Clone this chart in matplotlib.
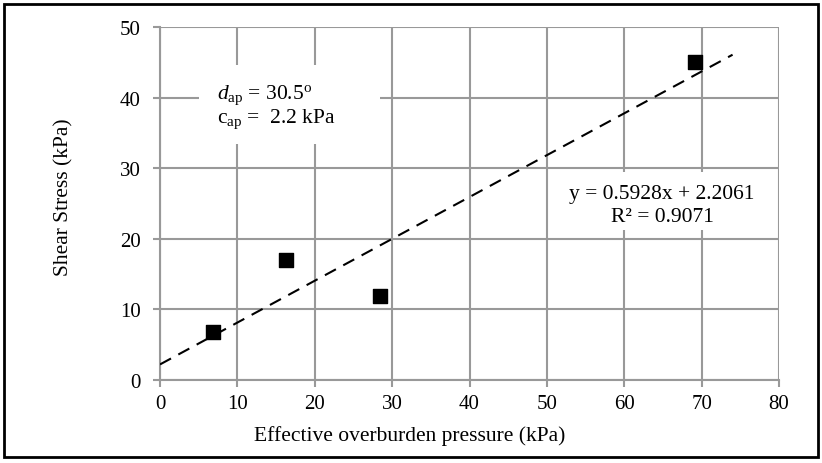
import matplotlib
matplotlib.use("Agg")
import matplotlib.pyplot as plt
import numpy as np
from matplotlib.patches import Rectangle

plt.rcParams['font.family'] = ['Liberation Serif', 'DejaVu Serif']
plt.rcParams['mathtext.fontset'] = 'custom'
plt.rcParams['mathtext.rm'] = 'Liberation Serif'
plt.rcParams['mathtext.it'] = 'Liberation Serif:italic'

pressure = [6.8, 16.3, 28.4, 69.1]
shear = [6.8, 17.0, 11.9, 45.0]
slope = 0.5928
intercept = 2.2061
trend_x = [0, 74]
x_ticks = [0, 10, 20, 30, 40, 50, 60, 70, 80]
y_ticks = [0, 10, 20, 30, 40, 50]

W, H = 822, 464
fig = plt.figure(figsize=(W/100, H/100), dpi=100)
ax = fig.add_axes([160/W, 1-381/H, (779-160)/W, (381-28)/H])

grid_c = '#999999'
ax.set_xlim(0, 80)
ax.set_ylim(0, 50)
ax.set_xticks(x_ticks)
ax.set_yticks(y_ticks)
ax.grid(True, color=grid_c, linewidth=1.5)
ax.set_axisbelow(True)
for s in ax.spines.values():
    s.set_visible(False)
for side in ('left', 'bottom'):
    ax.spines[side].set_visible(True)
    ax.spines[side].set_color(grid_c)
    ax.spines[side].set_linewidth(1.5)
ax.tick_params(axis='both', direction='out', length=5, width=1.5, color=grid_c,
               labelsize=15)
ax.tick_params(axis='y', pad=9)
ax.tick_params(axis='x', pad=5)

tx = np.array(trend_x, dtype=float)
ax.plot(tx, slope * tx + intercept, color='black', linestyle=(0, (6, 4)), linewidth=1.5, zorder=3)
ax.scatter(pressure, shear, marker='s', s=110, color='black', zorder=4)

fig.text(410/W, 1-436/H, 'Effective overburden pressure (kPa)', fontsize=15.5,
         ha='center', va='center')
fig.text(64/W, 1-197/H, 'Shear Stress (kPa)', fontsize=15.5, rotation=90,
         ha='center', va='center')

# white label boxes covering the grid
ax.add_patch(Rectangle((199/W, 1-145/H), (380-199)/W, (145-66)/H, transform=fig.transFigure,
                       facecolor='white', edgecolor='none', zorder=2, clip_on=False))
ax.add_patch(Rectangle((551/W, 1-231/H), (775-551)/W, (231-173)/H, transform=fig.transFigure,
                       facecolor='white', edgecolor='none', zorder=2, clip_on=False))

fig.text(217/W, 1-95/H, '$d_{\\rm ap}$ = 30.5$^{\\rm o}$', fontsize=15.5,
         va='center', ha='left')
fig.text(217/W, 1-119/H, 'c$_{\\rm ap}$ =  2.2 kPa', fontsize=15.5,
         va='center', ha='left')

fig.text(662/W, 1-194/H, 'y = 0.5928x + 2.2061', fontsize=15.5, va='center', ha='center')
fig.text(662/W, 1-218/H, 'R² = 0.9071', fontsize=15.5, va='center', ha='center')

fig.patches.append(Rectangle((4/W, 1-458/H), (818-4)/W, (458-5)/H,
                             transform=fig.transFigure, fill=False, edgecolor='black', linewidth=2))

fig.savefig('out.png', dpi=100)
